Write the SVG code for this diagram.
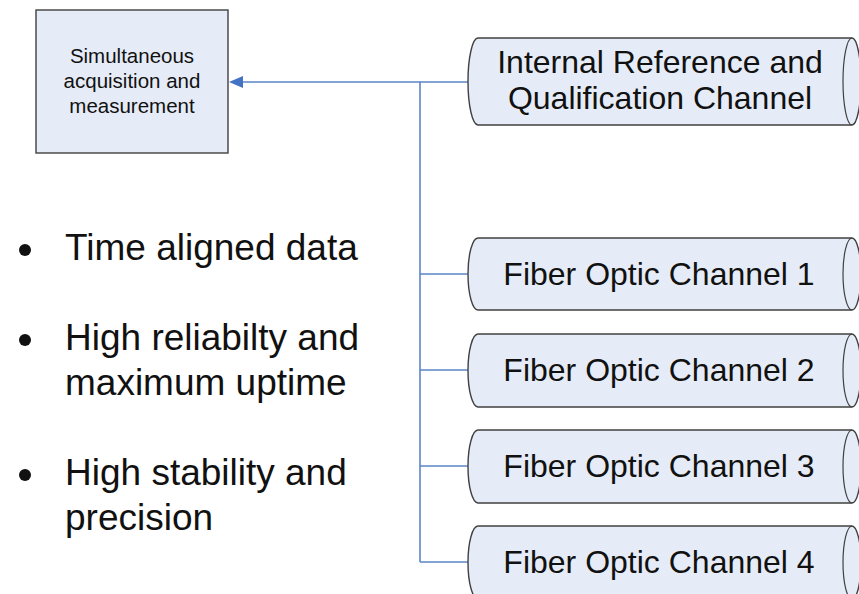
<svg xmlns="http://www.w3.org/2000/svg" width="859" height="594" viewBox="0 0 859 594">
<defs>
<style>
.node{fill:#e6ecf7;stroke:#404040;stroke-width:1.4}
.rim{fill:none;stroke:#404040;stroke-width:1.2}
.conn{fill:none;stroke:#5b86c8;stroke-width:1.6}
.t{font-family:"Liberation Sans",Arial,sans-serif;fill:#111}
.box{font-size:20.5px}
.ch{font-size:32px}
.bl{font-size:37px}
</style>
</defs>
<rect width="859" height="594" fill="#ffffff"/>
<g id="connectors">
<path class="conn" d="M468,82 H420 V562"/>
<line class="conn" x1="420" y1="82" x2="243" y2="82"/>
<path d="M243,76 L229,82 L243,88 Z" fill="#4472c4"/>
<line class="conn" x1="420" y1="274" x2="468" y2="274"/>
<line class="conn" x1="420" y1="370" x2="468" y2="370"/>
<line class="conn" x1="420" y1="466" x2="468" y2="466"/>
<line class="conn" x1="420" y1="562" x2="468" y2="562"/>
</g>
<g id="box">
<rect class="node" x="36" y="10" width="192" height="143"/>
<text class="t box" x="132" y="63" text-anchor="middle">Simultaneous</text>
<text class="t box" x="132" y="88" text-anchor="middle">acquisition and</text>
<text class="t box" x="132" y="113" text-anchor="middle">measurement</text>
</g>
<g id="internal">
<path class="node" d="M478,38 H852 A9,43.5 0 0 1 852,125 H478 A10,43.5 0 0 1 478,38 Z"/>
<path class="rim" d="M852,38 A9,43.5 0 0 0 852,125"/>
<text class="t ch" x="660" y="73" text-anchor="middle">Internal Reference and</text>
<text class="t ch" x="660" y="109" text-anchor="middle">Qualification Channel</text>
</g>
<g id="fiber1">
<path class="node" d="M478,238 H852 A9,36 0 0 1 852,310 H478 A10,36 0 0 1 478,238 Z"/>
<path class="rim" d="M852,238 A9,36 0 0 0 852,310"/>
<text class="t ch" x="659" y="285" text-anchor="middle">Fiber Optic Channel 1</text>
</g>
<g id="fiber2">
<path class="node" d="M478,334 H852 A9,36.5 0 0 1 852,407 H478 A10,36.5 0 0 1 478,334 Z"/>
<path class="rim" d="M852,334 A9,36.5 0 0 0 852,407"/>
<text class="t ch" x="659" y="381" text-anchor="middle">Fiber Optic Channel 2</text>
</g>
<g id="fiber3">
<path class="node" d="M478,430 H852 A9,36.5 0 0 1 852,503 H478 A10,36.5 0 0 1 478,430 Z"/>
<path class="rim" d="M852,430 A9,36.5 0 0 0 852,503"/>
<text class="t ch" x="659" y="477" text-anchor="middle">Fiber Optic Channel 3</text>
</g>
<g id="fiber4">
<path class="node" d="M478,526 H852 A9,36.5 0 0 1 852,599 H478 A10,36.5 0 0 1 478,526 Z"/>
<path class="rim" d="M852,526 A9,36.5 0 0 0 852,599"/>
<text class="t ch" x="659" y="573" text-anchor="middle">Fiber Optic Channel 4</text>
</g>
<g id="bullets">
<circle cx="25" cy="250" r="6" fill="#111"/>
<text class="t bl" x="65" y="260">Time aligned data</text>
<circle cx="25" cy="340" r="6" fill="#111"/>
<text class="t bl" x="65" y="350">High reliabilty and</text>
<text class="t bl" x="65" y="395">maximum uptime</text>
<circle cx="25" cy="475" r="6" fill="#111"/>
<text class="t bl" x="65" y="485">High stability and</text>
<text class="t bl" x="65" y="530">precision</text>
</g>
</svg>
